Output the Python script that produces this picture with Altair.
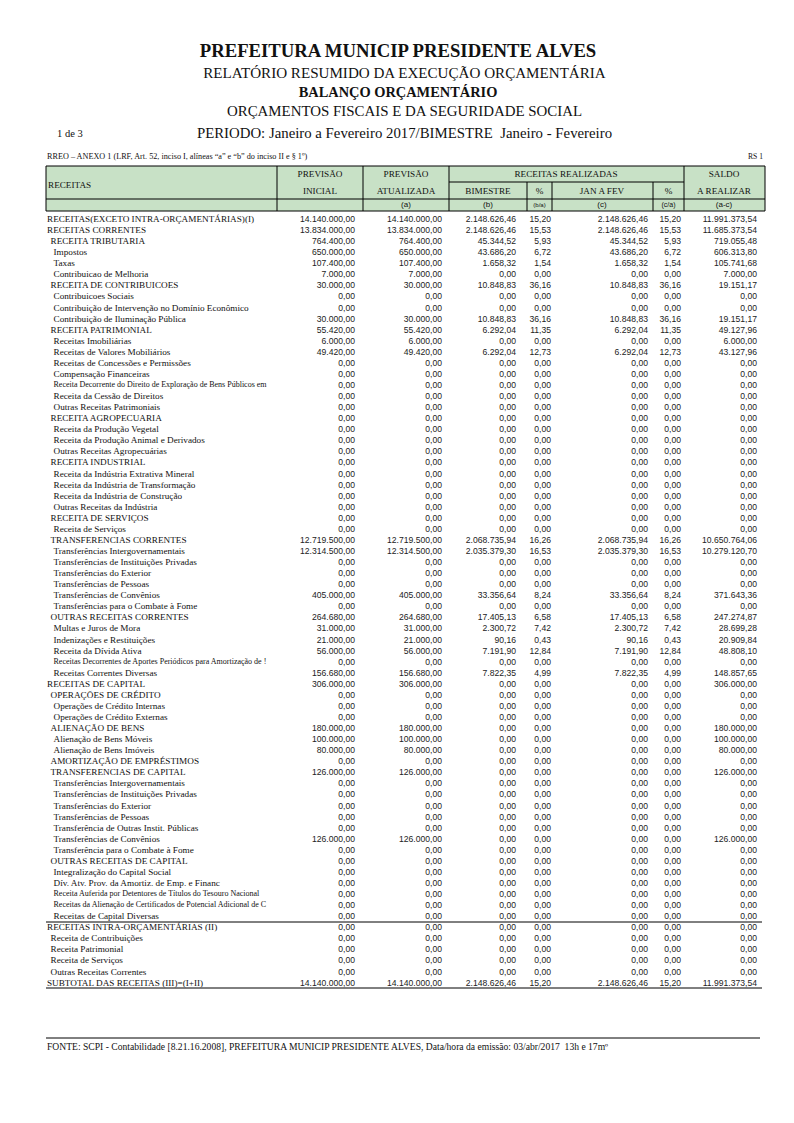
import altair as alt
import pandas as pd

# ---------------- data ----------------
labels = [
    "RECEITAS(EXCETO INTRA-ORÇAMENTÁRIAS)(I)", "RECEITAS CORRENTES", "RECEITA TRIBUTARIA", "Impostos", "Taxas",
    "Contribuicao de Melhoria", "RECEITA DE CONTRIBUICOES", "Contribuicoes Sociais",
    "Contribuição de Intervenção no Domínio Econômico", "Contribuição de Iluminação Pública",
    "RECEITA PATRIMONIAL", "Receitas Imobiliárias", "Receitas de Valores Mobiliários",
    "Receitas de Concessões e Permissões", "Compensação Financeiras",
    "Receita Decorrente do Direito de Exploração de Bens Públicos em", "Receita da Cessão de Direitos",
    "Outras Receitas Patrimoniais", "RECEITA AGROPECUARIA", "Receita da Produção Vegetal",
    "Receita da Produção Animal e Derivados", "Outras Receitas Agropecuárias", "RECEITA INDUSTRIAL",
    "Receita da Indústria Extrativa Mineral", "Receita da Indústria de Transformação",
    "Receita da Indústria de Construção", "Outras Receitas da Indústria", "RECEITA DE SERVIÇOS",
    "Receita de Serviços", "TRANSFERENCIAS CORRENTES", "Transferências Intergovernamentais",
    "Transferências de Instituições Privadas", "Transferências do Exterior", "Transferências de Pessoas",
    "Transferências de Convênios", "Transferências para o Combate à Fome", "OUTRAS RECEITAS CORRENTES",
    "Multas e Juros de Mora", "Indenizações e Restituições", "Receita da Dívida Ativa",
    "Receitas Decorrentes de Aportes Periódicos para Amortização de !", "Receitas Correntes Diversas",
    "RECEITAS DE CAPITAL", "OPERAÇÕES DE CRÉDITO", "Operações de Crédito Internas",
    "Operações de Crédito Externas", "ALIENAÇÃO DE BENS", "Alienação de Bens Móveis",
    "Alienação de Bens Imóveis", "AMORTIZAÇÃO DE EMPRÉSTIMOS", "TRANSFERENCIAS DE CAPITAL",
    "Transferências Intergovernamentais", "Transferências de Instituições Privadas",
    "Transferências do Exterior", "Transferências de Pessoas", "Transferência de Outras Instit. Públicas",
    "Transferências de Convênios", "Transferência para o Combate à Fome", "OUTRAS RECEITAS DE CAPITAL",
    "Integralização do Capital Social", "Dív. Atv. Prov. da Amortiz. de Emp. e Financ",
    "Receita Auferida por Detentores de Títulos do Tesouro Nacional",
    "Receitas da Alienação de Certificados de Potencial Adicional de C", "Receitas de Capital Diversas",
    "RECEITAS INTRA-ORÇAMENTÁRIAS (II)", "Receita de Contribuições", "Receita Patrimonial",
    "Receita de Serviços", "Outras Receitas Correntes", "SUBTOTAL DAS RECEITAS (III)=(I+II)",
]
levels = [
    0, 0, 1, 2, 2, 2, 1, 2, 2, 2,
    1, 2, 2, 2, 2, 2, 2, 2, 1, 2,
    2, 2, 1, 2, 2, 2, 2, 1, 2, 1,
    2, 2, 2, 2, 2, 2, 1, 2, 2, 2,
    2, 2, 0, 1, 2, 2, 1, 2, 2, 1,
    1, 2, 2, 2, 2, 2, 2, 2, 1, 2,
    2, 2, 2, 2, 0, 1, 1, 1, 1, 0,
]
small_print_rows = [16, 41, 62, 63]

prev_inicial = [
    14140000, 13834000, 764400, 650000, 107400, 7000, 30000, 0, 0, 30000,
    55420, 6000, 49420, 0, 0, 0, 0, 0, 0, 0,
    0, 0, 0, 0, 0, 0, 0, 0, 0, 12719500,
    12314500, 0, 0, 0, 405000, 0, 264680, 31000, 21000, 56000,
    0, 156680, 306000, 0, 0, 0, 180000, 100000, 80000, 0,
    126000, 0, 0, 0, 0, 0, 126000, 0, 0, 0,
    0, 0, 0, 0, 0, 0, 0, 0, 0, 14140000,
]
prev_atualizada = [
    14140000, 13834000, 764400, 650000, 107400, 7000, 30000, 0, 0, 30000,
    55420, 6000, 49420, 0, 0, 0, 0, 0, 0, 0,
    0, 0, 0, 0, 0, 0, 0, 0, 0, 12719500,
    12314500, 0, 0, 0, 405000, 0, 264680, 31000, 21000, 56000,
    0, 156680, 306000, 0, 0, 0, 180000, 100000, 80000, 0,
    126000, 0, 0, 0, 0, 0, 126000, 0, 0, 0,
    0, 0, 0, 0, 0, 0, 0, 0, 0, 14140000,
]
bimestre = [
    2148626.46, 2148626.46, 45344.52, 43686.20, 1658.32, 0, 10848.83, 0, 0, 10848.83,
    6292.04, 0, 6292.04, 0, 0, 0, 0, 0, 0, 0,
    0, 0, 0, 0, 0, 0, 0, 0, 0, 2068735.94,
    2035379.30, 0, 0, 0, 33356.64, 0, 17405.13, 2300.72, 90.16, 7191.90,
    0, 7822.35, 0, 0, 0, 0, 0, 0, 0, 0,
    0, 0, 0, 0, 0, 0, 0, 0, 0, 0,
    0, 0, 0, 0, 0, 0, 0, 0, 0, 2148626.46,
]
pct_b = [
    15.20, 15.53, 5.93, 6.72, 1.54, 0, 36.16, 0, 0, 36.16,
    11.35, 0, 12.73, 0, 0, 0, 0, 0, 0, 0,
    0, 0, 0, 0, 0, 0, 0, 0, 0, 16.26,
    16.53, 0, 0, 0, 8.24, 0, 6.58, 7.42, 0.43, 12.84,
    0, 4.99, 0, 0, 0, 0, 0, 0, 0, 0,
    0, 0, 0, 0, 0, 0, 0, 0, 0, 0,
    0, 0, 0, 0, 0, 0, 0, 0, 0, 15.20,
]
jan_fev = [
    2148626.46, 2148626.46, 45344.52, 43686.20, 1658.32, 0, 10848.83, 0, 0, 10848.83,
    6292.04, 0, 6292.04, 0, 0, 0, 0, 0, 0, 0,
    0, 0, 0, 0, 0, 0, 0, 0, 0, 2068735.94,
    2035379.30, 0, 0, 0, 33356.64, 0, 17405.13, 2300.72, 90.16, 7191.90,
    0, 7822.35, 0, 0, 0, 0, 0, 0, 0, 0,
    0, 0, 0, 0, 0, 0, 0, 0, 0, 0,
    0, 0, 0, 0, 0, 0, 0, 0, 0, 2148626.46,
]
pct_c = [
    15.20, 15.53, 5.93, 6.72, 1.54, 0, 36.16, 0, 0, 36.16,
    11.35, 0, 12.73, 0, 0, 0, 0, 0, 0, 0,
    0, 0, 0, 0, 0, 0, 0, 0, 0, 16.26,
    16.53, 0, 0, 0, 8.24, 0, 6.58, 7.42, 0.43, 12.84,
    0, 4.99, 0, 0, 0, 0, 0, 0, 0, 0,
    0, 0, 0, 0, 0, 0, 0, 0, 0, 0,
    0, 0, 0, 0, 0, 0, 0, 0, 0, 15.20,
]
saldo = [
    11991373.54, 11685373.54, 719055.48, 606313.80, 105741.68, 7000, 19151.17, 0, 0, 19151.17,
    49127.96, 6000, 43127.96, 0, 0, 0, 0, 0, 0, 0,
    0, 0, 0, 0, 0, 0, 0, 0, 0, 10650764.06,
    10279120.70, 0, 0, 0, 371643.36, 0, 247274.87, 28699.28, 20909.84, 48808.10,
    0, 148857.65, 306000, 0, 0, 0, 180000, 100000, 80000, 0,
    126000, 0, 0, 0, 0, 0, 126000, 0, 0, 0,
    0, 0, 0, 0, 0, 0, 0, 0, 0, 11991373.54,
]

# ---------------- layout ----------------
SERIF = "Liberation Serif"
SANS = "Liberation Sans"
GREEN = "#c8e1c6"
OFF = 8  # page margin


def P(v):
    return v - OFF


def fmt(v):
    s = f"{v:,.2f}"
    return s.replace(",", "X").replace(".", ",").replace("X", ".")


n = len(labels)
indent = {0: 47, 1: 50.5, 2: 53.5}
rows = pd.DataFrame({
    "row": list(range(1, n + 1)),
    "label": labels,
    "lx": [P(indent[l]) for l in levels],
    "fs": [8.0 if (i + 1) in small_print_rows else 9.2 for i in range(n)],
    "c1": [fmt(v) for v in prev_inicial],
    "c2": [fmt(v) for v in prev_atualizada],
    "c3": [fmt(v) for v in bimestre],
    "c4": [fmt(v) for v in pct_b],
    "c5": [fmt(v) for v in jan_fev],
    "c6": [fmt(v) for v in pct_c],
    "c7": [fmt(v) for v in saldo],
})

ROW_Y = alt.Y("row:Q", scale=alt.Scale(domain=[1, n], range=[P(219), P(982.6)]), axis=None)

label_layer = alt.Chart(rows).mark_text(
    align="left", baseline="middle", font=SERIF, color="#111"
).encode(
    x=alt.X("lx:Q", scale=None, axis=None),
    y=ROW_Y,
    size=alt.Size("fs:Q", scale=None, legend=None),
    text="label:N",
)

col_right = {"c1": 355, "c2": 442, "c3": 516, "c4": 551, "c5": 648, "c6": 681, "c7": 757}
num_layers = []
for c, xr in col_right.items():
    num_layers.append(
        alt.Chart(rows).mark_text(
            align="right", baseline="middle", font=SANS, fontSize=8.6, color="#222"
        ).encode(x=alt.value(P(xr)), y=ROW_Y, text=f"{c}:N")
    )

# header box
hdr = pd.DataFrame({"x1": [P(46)], "x2": [P(765)], "y1": [P(166)], "y2": [P(211)]})
hdr_layer = alt.Chart(hdr).mark_rect(fill=GREEN).encode(
    x=alt.X("x1:Q", scale=None, axis=None), x2="x2:Q",
    y=alt.Y("y1:Q", scale=None, axis=None), y2="y2:Q",
)

segs = [
    (46, 765, 166, 166), (46, 765, 211, 211), (46, 46, 166, 211), (765, 765, 166, 211),
    (277, 277, 166, 211), (363, 363, 166, 211), (449, 449, 166, 211), (684, 684, 166, 211),
    (449, 684, 182, 182), (46, 765, 199, 199),
    (527, 527, 182, 211), (552, 552, 182, 211), (653, 653, 182, 211),
    (46, 762, 922, 922), (46, 762, 988, 988),
    (46, 760, 1038, 1038),
]
seg_df = pd.DataFrame({
    "x1": [P(s[0]) for s in segs], "x2": [P(s[1]) for s in segs],
    "y1": [P(s[2]) for s in segs], "y2": [P(s[3]) for s in segs],
})
rule_layer = alt.Chart(seg_df).mark_rule(color="#000", strokeWidth=1).encode(
    x=alt.X("x1:Q", scale=None, axis=None), x2="x2:Q",
    y=alt.Y("y1:Q", scale=None, axis=None), y2="y2:Q",
)

# static texts: (text, x, y, size, align, weight, font)
static = [
    ("PREFEITURA MUNICIP PRESIDENTE ALVES", 398, 51, 18.7, "center", "bold", SERIF),
    ("RELATÓRIO RESUMIDO DA EXECUÇÃO ORÇAMENTÁRIA", 404.5, 73, 15.1, "center", "normal", SERIF),
    ("BALANÇO ORÇAMENTÁRIO", 398, 93, 14.4, "center", "bold", SERIF),
    ("ORÇAMENTOS FISCAIS E DA SEGURIDADE SOCIAL", 404.5, 112, 14.9, "center", "normal", SERIF),
    ("PERIODO: Janeiro a Fevereiro 2017/BIMESTRE \u00a0Janeiro - Fevereiro", 404.5, 134, 14.8, "center", "normal", SERIF),
    ("1 de 3", 57, 134, 10.5, "left", "normal", SERIF),
    ("RREO \u2013 ANEXO 1 (LRF, Art. 52, inciso I, alíneas \u201ca\u201d e \u201cb\u201d do inciso II e § 1º)", 47, 157, 8.2, "left", "normal", SERIF),
    ("RS 1", 763, 157, 7.6, "right", "normal", SERIF),
    ("RECEITAS", 48, 185, 9.2, "left", "normal", SERIF),
    ("PREVISÃO", 320, 174, 9.2, "center", "normal", SERIF),
    ("INICIAL", 320, 191, 9.2, "center", "normal", SERIF),
    ("PREVISÃO", 406, 174, 9.2, "center", "normal", SERIF),
    ("ATUALIZADA", 406, 191, 9.2, "center", "normal", SERIF),
    ("RECEITAS REALIZADAS", 566, 174, 9.2, "center", "normal", SERIF),
    ("BIMESTRE", 488, 191, 9.2, "center", "normal", SERIF),
    ("%", 539.5, 191, 9.2, "center", "normal", SERIF),
    ("JAN A FEV", 602, 191, 9.2, "center", "normal", SERIF),
    ("%", 668.5, 191, 9.2, "center", "normal", SERIF),
    ("SALDO", 724, 174, 9.2, "center", "normal", SERIF),
    ("A REALIZAR", 724, 191, 9.2, "center", "normal", SERIF),
    ("(a)", 406, 205, 8, "center", "normal", SANS),
    ("(b)", 488, 205, 8, "center", "normal", SANS),
    ("(b/a)", 539.5, 204.5, 6, "center", "normal", SANS),
    ("(c)", 602, 205, 8, "center", "normal", SANS),
    ("(c/a)", 668.5, 205, 7, "center", "normal", SANS),
    ("(a-c)", 724, 205, 8, "center", "normal", SANS),
    ("FONTE: SCPI - Contabilidade [8.21.16.2008], PREFEITURA MUNICIP PRESIDENTE ALVES, Data/hora da emissão: 03/abr/2017 \u00a013h e 17mº", 47, 1047, 9.6, "left", "normal", SERIF),
]
st_df = pd.DataFrame(static, columns=["text", "x", "y", "size", "align", "weight", "font"])
st_df["x"] = st_df["x"].map(P)
st_df["y"] = st_df["y"].map(P)

static_layers = []
for (al, wt, fn), g in st_df.groupby(["align", "weight", "font"]):
    static_layers.append(
        alt.Chart(g.reset_index(drop=True)).mark_text(
            align=al, baseline="middle", fontWeight=wt, font=fn, color="#111"
        ).encode(
            x=alt.X("x:Q", scale=None, axis=None),
            y=alt.Y("y:Q", scale=None, axis=None),
            size=alt.Size("size:Q", scale=None, legend=None),
            text="text:N",
        )
    )

chart = alt.layer(
    hdr_layer, rule_layer, *static_layers, label_layer, *num_layers
).resolve_scale(
    x="independent", y="independent", size="independent"
).properties(
    width=778, height=1107, padding=0, autosize="none", background="white"
).configure_view(stroke=None)

chart.save("out.html", embed_options={"renderer": "svg", "actions": False})
